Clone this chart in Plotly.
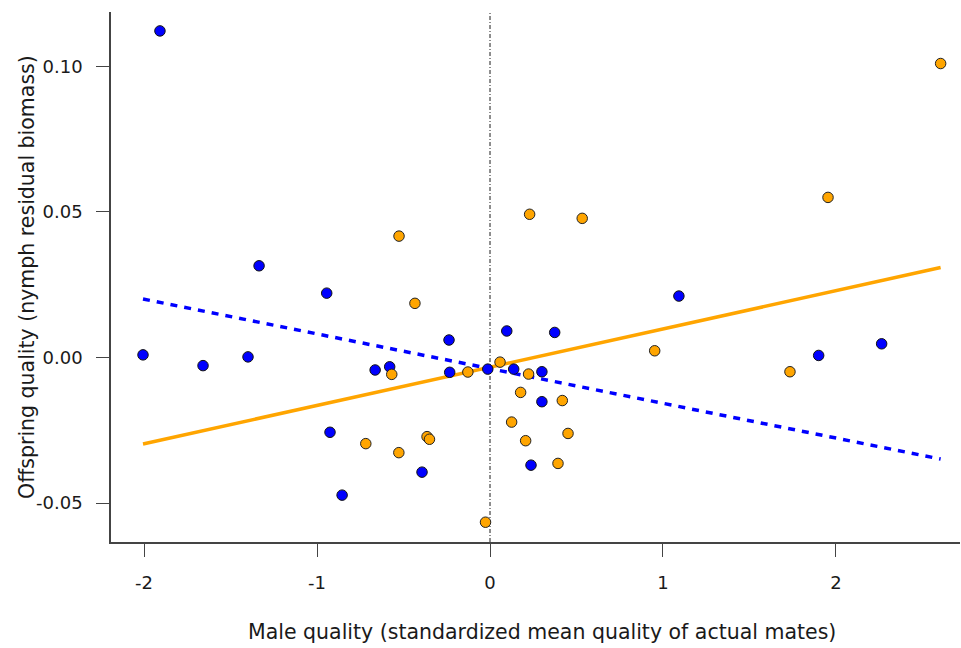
import plotly.graph_objects as go

# Blue group (offspring quality vs male quality)
blue_x = [-1.908, -2.006, -1.659, -1.399, -1.335, -0.944, -0.925, -0.855, -0.664, -0.580,
          -0.393, -0.237, -0.233, -0.013, 0.097, 0.137, 0.300, 0.300, 0.237, 0.374,
          1.092, 1.900, 2.264]
blue_y = [0.1122, 0.0009, -0.0028, 0.0002, 0.0315, 0.0221, -0.0257, -0.0473, -0.0043, -0.0032,
          -0.0394, 0.0060, -0.0051, -0.0040, 0.0091, -0.0040, -0.0049, -0.0152, -0.0370, 0.0086,
          0.0211, 0.0007, 0.0047]

# Orange group
orange_x = [-0.526, 0.229, 0.533, 1.954, 2.605, -0.434, -0.568, -0.128, 0.058, 0.223,
            0.177, 0.125, 0.206, 0.418, 0.451, 0.393, 0.952, 1.734, -0.026, -0.718,
            -0.527, -0.364, -0.350]
orange_y = [0.0417, 0.0492, 0.0478, 0.0550, 0.1010, 0.0186, -0.0058, -0.0050, -0.0016, -0.0057,
            -0.0120, -0.0222, -0.0286, -0.0148, -0.0261, -0.0364, 0.0023, -0.0049, -0.0566, -0.0296,
            -0.0327, -0.0272, -0.0281]

# Fitted regression lines (endpoints over the pooled data range)
fit_x = [-2.006, 2.605]
blue_fit_y = [0.0201, -0.0349]
orange_fit_y = [-0.0297, 0.0309]

x_ticks = [-2, -1, 0, 1, 2]
x_ticktext = ["-2", "-1", "0", "1", "2"]
y_ticks = [-0.05, 0.0, 0.05, 0.10]
y_ticktext = ["-0.05", "0.00", "0.05", "0.10"]

x_title = "Male quality (standardized mean quality of actual mates)"
y_title = "Offspring quality (nymph residual biomass)"

FONT = "DejaVu Sans, Liberation Sans, Arial, sans-serif"
AXIS_COLOR = "#444444"
TEXT_COLOR = "#1a1a1a"

fig = go.Figure()

fig.add_trace(go.Scatter(x=fit_x, y=blue_fit_y, mode="lines",
                         line=dict(color="#0000FF", width=3.5, dash="7px,7px"),
                         showlegend=False, hoverinfo="skip"))
fig.add_trace(go.Scatter(x=fit_x, y=orange_fit_y, mode="lines",
                         line=dict(color="#FFA500", width=3.5),
                         showlegend=False, hoverinfo="skip"))

fig.add_trace(go.Scatter(x=blue_x, y=blue_y, mode="markers",
                         marker=dict(color="#0000FF", size=10.5,
                                     line=dict(color="#111111", width=1)),
                         showlegend=False))
fig.add_trace(go.Scatter(x=orange_x, y=orange_y, mode="markers",
                         marker=dict(color="#FFA500", size=10.5,
                                     line=dict(color="#222222", width=1)),
                         showlegend=False))

fig.add_shape(type="line", xref="x", yref="paper", x0=0, x1=0, y0=0, y1=1,
              line=dict(color="#444444", width=1.2, dash="4px,2px,1px,2px"), layer="below")

fig.update_layout(
    width=961, height=648,
    margin=dict(l=111, r=1, t=12, b=106),
    paper_bgcolor="white", plot_bgcolor="white",
    font=dict(family=FONT, size=18, color=TEXT_COLOR),
    showlegend=False,
)

fig.add_annotation(text=x_title, xref="paper", yref="paper", x=0.5, y=0,
                   xanchor="center", yanchor="middle", xshift=6, yshift=-90,
                   showarrow=False, font=dict(family=FONT, size=20.5, color=TEXT_COLOR))
fig.add_annotation(text=y_title, xref="paper", yref="paper", x=0, y=0.5,
                   xanchor="center", yanchor="middle", xshift=-84, textangle=-90,
                   showarrow=False, font=dict(family=FONT, size=20.5, color=TEXT_COLOR))

fig.update_xaxes(
    range=[-2.191, 2.717], tickvals=x_ticks, ticktext=x_ticktext,
    showgrid=False, zeroline=False, showline=True, linecolor=AXIS_COLOR, linewidth=1.5,
    ticks="outside", ticklen=13, tickwidth=1.3, tickcolor=AXIS_COLOR,
    tickfont=dict(family=FONT, size=18, color=TEXT_COLOR),
    ticklabelstandoff=11,
)
fig.update_yaxes(
    range=[-0.0634, 0.1187], tickvals=y_ticks, ticktext=y_ticktext,
    showgrid=False, zeroline=False, showline=True, linecolor=AXIS_COLOR, linewidth=1.5,
    ticks="outside", ticklen=13, tickwidth=1.3, tickcolor=AXIS_COLOR,
    tickfont=dict(family=FONT, size=18, color=TEXT_COLOR),
    ticklabelstandoff=10,
)

fig.write_html("out.html")
